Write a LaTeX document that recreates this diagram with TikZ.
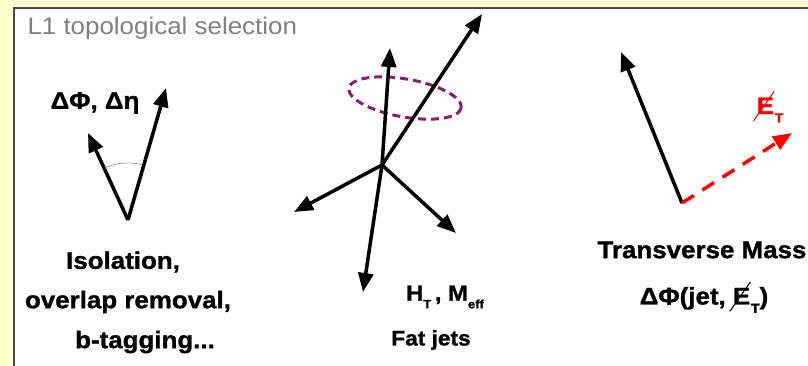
\documentclass[tikz,border=0pt]{standalone}
\usepackage{fontspec}
\setmainfont{Liberation Sans}[FakeStretch=1.08, BoldFeatures={FakeBold=1.2}]
\usetikzlibrary{arrows.meta}

\definecolor{bgyellow}{RGB}{255,255,208}
\definecolor{jetpurple}{RGB}{140,30,110}
\definecolor{titlegray}{RGB}{128,128,128}

% slashed E and small lowered subscript
\newcommand{\slE}{\ooalign{E\cr\kern-0.15em\smash{\raisebox{-0.3em}{\rotatebox{55}{\rule{1.5em}{0.045em}}}}\hss\cr}}
\newcommand{\lsub}[1]{\raisebox{-0.35em}{\scalebox{0.55}{#1}}}

\begin{document}
\begin{tikzpicture}[x=1pt,y=-1pt,
    jet/.style={line width=3.5pt, -{Triangle[length=19pt,width=15pt]}},
    lbl/.style={font=\fontsize{24}{28}\selectfont\bfseries},
    midlbl/.style={font=\fontsize{21}{25}\selectfont\bfseries}]
    \useasboundingbox (0,0) rectangle (808,366);
    % Frame
    \fill[bgyellow] (0,0) rectangle (808,366);
    \fill[white] (14,8) rectangle (808,366);
    \draw[line width=1.5pt, black!70] (14,366) -- (14,8) -- (808,8);
    \node[anchor=west, titlegray, font=\fontsize{24}{28}\selectfont] (title) at (24,28) {L1 topological selection};

    % Left: two objects and their opening angle
    \coordinate (lv) at (128,220);
    \coordinate (la) at (166,88);
    \coordinate (lb) at (88,133);
    \draw[jet] (lv) -- (la);
    \draw[jet] (lv) -- (lb);
    \draw[thin, black!60] (lv) ++(-74:57) arc[start angle=-74, end angle=-114, radius=57];
    \node[lbl] (dphi) at (95,103) {ΔΦ, Δη};
    \node[lbl] (iso) at (123,262) {Isolation,};
    \node[lbl] (ovl) at (128,302) {overlap removal,};
    \node[lbl] (btag) at (145,342) {b-tagging...};

    % Middle: jets from one vertex, cone round one of them
    \coordinate (mv) at (382,165);
    \coordinate (ec) at (405,98);
    \draw[jetpurple, line width=3pt, dash pattern=on 8pt off 5pt, rotate around={-10:(ec)}]
        (ec) ellipse [x radius=57, y radius=19];
    \coordinate (m1) at (482,14);
    \coordinate (m2) at (390,48);
    \coordinate (m3) at (294,212);
    \coordinate (m4) at (456,233);
    \coordinate (m5) at (363,292);
    \foreach \t in {m1,m2,m3,m4,m5}
        \draw[jet] (mv) -- (\t);
    \node[midlbl, font=\fontsize{22}{26}\selectfont\bfseries] (ht) at (445,297) {H\lsub{T}\,, M\lsub{eff}};
    \node[midlbl] (fat) at (431,340) {Fat jets};

    % Right: jet and missing transverse energy
    \coordinate (rv) at (682,203);
    \coordinate (rj) at (621,52);
    \coordinate (rm) at (792,133);
    \draw[jet] (rv) -- (rj);
    \draw[red, line width=3.5pt, dash pattern=on 14pt off 10pt, -{Triangle[length=19pt,width=15pt]}] (rv) -- (rm);
    \node[lbl, red] (met) at (770,110) {\slE\lsub{T}};
    \node[lbl] (tm) at (702,250) {Transverse Mass};
    \node[lbl] (dphimet) at (704,300) {ΔΦ(jet, \slE\lsub{T})};
\end{tikzpicture}
\end{document}
